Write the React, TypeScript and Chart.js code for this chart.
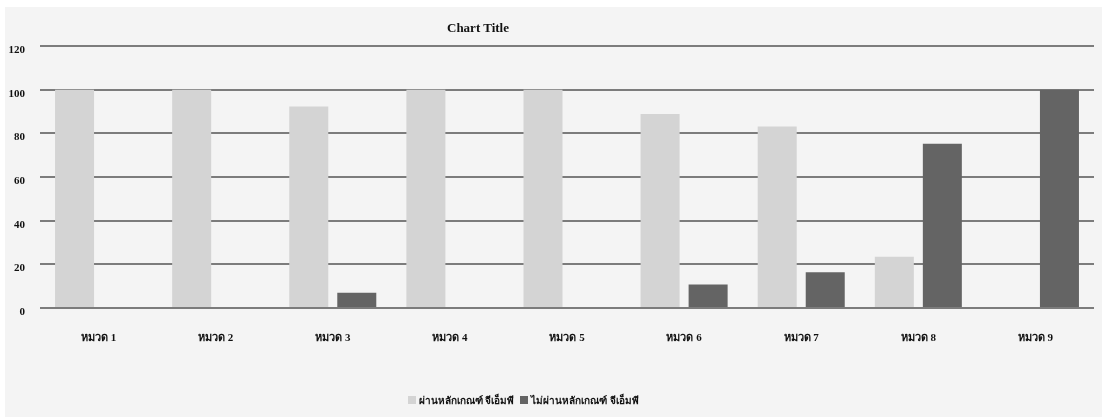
import React, { useEffect, useRef } from "react";
import { Chart, registerables } from "chart.js";

Chart.register(...registerables);

const categories = ["หมวด 1", "หมวด 2", "หมวด 3", "หมวด 4", "หมวด 5", "หมวด 6", "หมวด 7", "หมวด 8", "หมวด 9"];
const passLabel = "ผ่านหลักเกณฑ์ จีเอ็มพี";
const failLabel = "ไม่ผ่านหลักเกณฑ์ จีเอ็มพี";
const passValues = [100, 100, 92.3, 100, 100, 88.9, 83.1, 23.5, 0];
const failValues = [0, 0, 7.0, 0, 0, 10.8, 16.4, 75.2, 100];
const yTicks = [0, 20, 40, 60, 80, 100, 120];
const chartTitle = "Chart Title";

const LIGHT = "#d4d4d4";
const DARK = "#646464";
const BG = "#f4f4f4";
const FONT = "'Liberation Serif', 'Times New Roman', serif";

export default function App() {
  const ref = useRef<HTMLCanvasElement | null>(null);

  useEffect(() => {
    if (!ref.current) return;
    const chart = new Chart(ref.current, {
      type: "bar",
      data: {
        labels: categories,
        datasets: [
          { label: passLabel, data: passValues, backgroundColor: LIGHT, barPercentage: 0.8125, categoryPercentage: 0.82 },
          { label: failLabel, data: failValues, backgroundColor: DARK, barPercentage: 0.8125, categoryPercentage: 0.82 },
        ],
      },
      options: {
        animation: false,
        responsive: false,
        maintainAspectRatio: false,
        layout: { padding: { top: 39, right: 8, bottom: 39, left: 0 } },
        plugins: {
          legend: { display: false },
          title: { display: false },
          tooltip: { enabled: false },
        },
        scales: {
          x: {
            grid: { display: false },
            border: { display: false },
            ticks: {
              color: "#111",
              font: { family: FONT, size: 11, weight: "bold" },
              padding: 16,
              maxRotation: 0,
            },
            afterFit: (s: any) => {
              s.height = 70;
            },
          },
          y: {
            min: 0,
            max: 120,
            afterBuildTicks: (s: any) => {
              s.ticks = yTicks.map((v) => ({ value: v }));
            },
            grid: { color: "#7c7c7c", lineWidth: 2, drawTicks: false },
            border: { display: false },
            ticks: {
              color: "#111",
              font: { family: FONT, size: 11, weight: "bold" },
              padding: 15,
              labelOffset: 4,
            },
            afterFit: (s: any) => {
              s.width = 35;
            },
          },
        },
      },
    });
    return () => chart.destroy();
  }, []);

  return (
    <div
      style={{
        position: "fixed",
        left: 5,
        top: 7,
        width: 1097,
        height: 410,
        background: BG,
        fontFamily: FONT,
      }}
    >
      <canvas ref={ref} width={1097} height={410} style={{ display: "block" }} />
      <div
        style={{
          position: "absolute",
          left: 0,
          width: 946,
          top: 13,
          textAlign: "center",
          fontWeight: "bold",
          fontSize: 13,
          color: "#111",
        }}
      >
        {chartTitle}
      </div>
      <div
        style={{
          position: "absolute",
          left: 0,
          width: 1036,
          top: 386,
          textAlign: "center",
          fontWeight: "bold",
          fontSize: 10,
          color: "#111",
          whiteSpace: "nowrap",
        }}
      >
        <span style={{ display: "inline-block", width: 8, height: 8, background: LIGHT, marginRight: 3 }} />
        <span>{passLabel}</span>
        <span style={{ display: "inline-block", width: 8, height: 8, background: DARK, marginLeft: 6, marginRight: 3 }} />
        <span>{failLabel}</span>
      </div>
    </div>
  );
}
